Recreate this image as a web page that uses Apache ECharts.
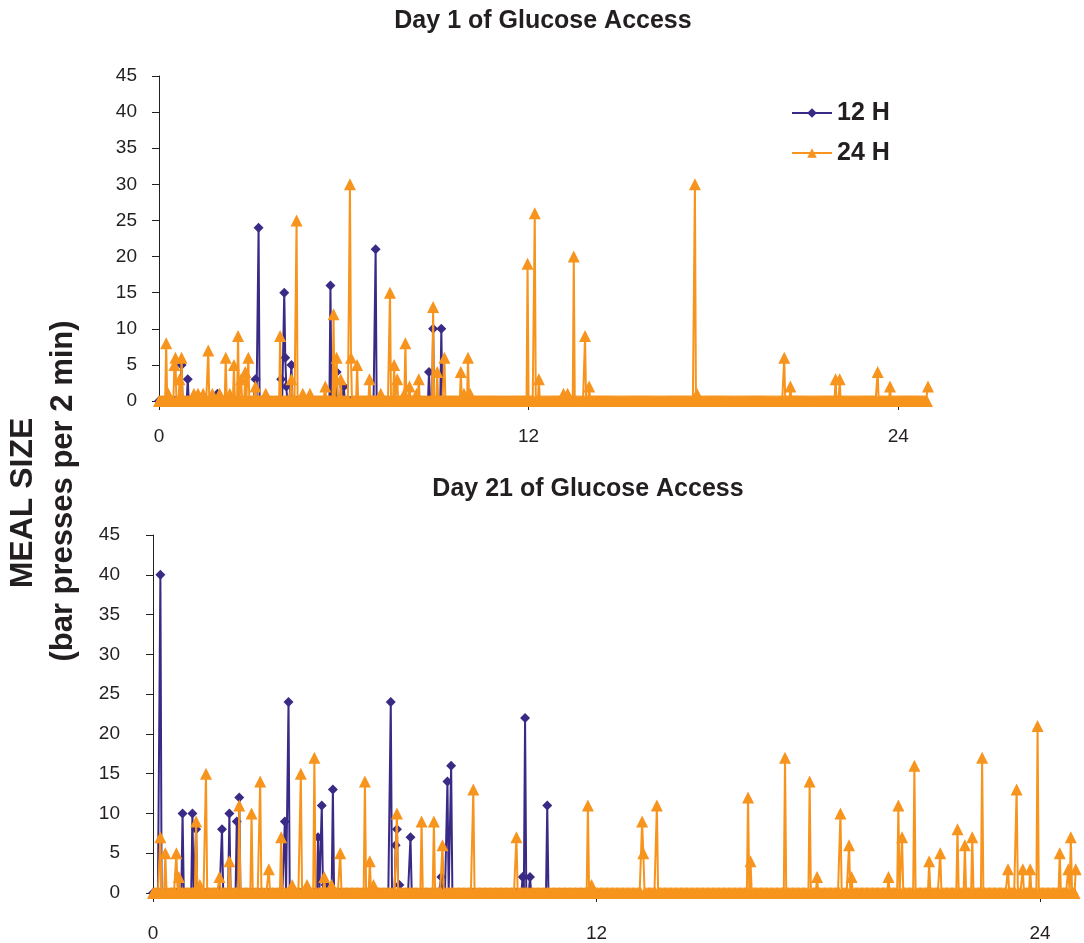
<!DOCTYPE html>
<html>
<head>
<meta charset="utf-8">
<style>
  html, body { margin: 0; padding: 0; background: #fff; }
  #chart { width: 1084px; height: 943px; }
</style>
<script src="https://cdn.jsdelivr.net/npm/echarts@6/dist/echarts.min.js"></script>
</head>
<body>
<div id="chart"></div>
<script>
// 2-min bins, hours on the x axis
const binsPerHour = 30;
const bins24 = 750;
const bins12 = 361;
const hourLabels = [0, 12, 24];
const seriesNames = ['12 H', '24 H'];

// Day 1 - meals (hour, bar presses)
const day1Time12 = [0.74, 0.92, 1.89, 3.13, 3.22, 3.96, 4.06, 4.10, 4.12, 4.30, 5.58, 5.78, 6.01, 7.02, 8.78, 8.91, 9.16];
const day1Size12 = [5, 3, 1, 3, 24, 3, 15, 6, 2, 5, 16, 4, 2, 21, 4, 10, 10];
const day1Time24 = [0.23, 0.30, 0.49, 0.54, 0.65, 0.74, 1.12, 1.28, 1.44, 1.60, 1.72, 1.98, 2.18, 2.30, 2.44, 2.57, 2.67, 2.81, 2.91,
  3.13, 3.45, 3.92, 4.31, 4.48, 4.68, 4.90, 5.40, 5.68, 5.78, 5.91, 6.19, 6.24, 6.43, 6.84, 7.20, 7.50, 7.63, 7.74, 7.95,
  8.01, 8.12, 8.35, 8.42, 8.89, 9.02, 9.25, 9.81, 9.90, 10.03, 10.10, 11.98, 12.21, 12.32, 13.13, 13.28, 13.46, 13.84, 13.97,
  17.40, 17.48, 20.31, 20.51, 21.98, 22.11, 23.32, 23.73, 24.97];
const day1Size24 = [8, 1, 5, 6, 3, 6, 1, 1, 1, 7, 1, 1, 6, 1, 5, 9, 3, 4, 6,
  2, 1, 9, 3, 25, 1, 1, 2, 12, 6, 3, 30, 6, 5, 3, 1, 15, 5, 3, 1,
  8, 2, 1, 3, 13, 4, 6, 4, 1, 6, 1, 19, 26, 3, 1, 1, 20, 9, 2,
  30, 1, 6, 2, 3, 3, 4, 2, 2];

// Day 21
const day21Time12 = [0.19, 0.80, 1.05, 1.16, 1.86, 2.06, 2.25, 2.34, 3.58, 3.67, 4.48, 4.56, 4.65, 4.88,
  6.44, 6.57, 6.61, 6.68, 6.95, 7.81, 7.96, 8.05, 10.01, 10.08, 10.21, 10.68];
const day21Size12 = [40, 10, 10, 8, 8, 10, 9, 12, 9, 24, 7, 11, 1, 13,
  24, 6, 8, 1, 7, 2, 14, 16, 2, 22, 2, 11];
const day21Time24 = [0.21, 0.34, 0.64, 0.70, 1.16, 1.27, 1.43, 1.81, 2.06, 2.33, 2.65, 2.90, 3.12, 3.47, 3.75, 3.99,
  4.17, 4.38, 4.63, 4.84, 5.07, 5.74, 5.87, 5.96, 6.61, 7.28, 7.59, 7.82, 8.65, 9.82, 11.78, 11.85,
  13.23, 13.27, 13.62, 16.09, 16.16, 17.11, 17.77, 17.97, 18.59, 18.83, 18.90, 19.89, 20.16, 20.27,
  20.59, 20.99, 21.29, 21.76, 21.95, 22.15, 22.43, 23.14, 23.38, 23.54, 23.73, 23.92, 24.54, 24.76, 24.82, 24.95];
const day21Size24 = [7, 5, 5, 2, 9, 1, 15, 2, 4, 11, 10, 14, 3, 7, 1, 15,
  1, 17, 2, 1, 5, 14, 4, 1, 10, 9, 9, 6, 13, 7, 11, 1,
  9, 5, 11, 12, 4, 17, 14, 2, 10, 6, 2, 2, 11, 7,
  16, 4, 5, 8, 6, 7, 17, 3, 13, 3, 3, 21, 5, 3, 7, 3];

const blue = '#3a2a86';
const orange = '#f7941d';
const textColor = '#231f20';
const fontFamily = 'Liberation Sans, Arial, sans-serif';

// every 2-min bin with no meal is a zero
function toBins(times, sizes, n) {
  const vals = new Array(n).fill(0);
  times.forEach((t, i) => {
    const idx = Math.min(n - 1, Math.round(t * binsPerHour));
    vals[idx] = Math.max(vals[idx], sizes[i]);
  });
  return vals.map((v, i) => [i / binsPerHour, v]);
}

function xAxisFor(gridIndex, margin) {
  return {
    type: 'value', gridIndex: gridIndex, min: 0, max: 25,
    axisLine: { show: true, lineStyle: { color: textColor, width: 1 } },
    axisTick: { show: true, length: 9, customValues: hourLabels, lineStyle: { color: textColor } },
    axisLabel: { customValues: hourLabels, margin: margin, color: textColor, fontSize: 19, fontFamily: fontFamily },
    splitLine: { show: false }
  };
}

function yAxisFor(gridIndex, offset, margin) {
  return {
    type: 'value', gridIndex: gridIndex, min: 0, max: 45, interval: 5, offset: offset,
    axisLine: { show: true, lineStyle: { color: textColor, width: 1 } },
    axisTick: { show: true, length: 7, lineStyle: { color: textColor } },
    axisLabel: { margin: margin, color: textColor, fontSize: 19, fontFamily: fontFamily },
    splitLine: { show: false }
  };
}

function lineSeries(name, idx, data, color, symbol, size) {
  return {
    name: name, type: 'line', xAxisIndex: idx, yAxisIndex: idx,
    data: data, symbol: symbol, symbolSize: size, showSymbol: true, showAllSymbol: true,
    lineStyle: { color: color, width: 2 },
    itemStyle: { color: color },
    emphasis: { disabled: true },
    z: name === '24 H' ? 3 : 2
  };
}

const chart = echarts.init(document.getElementById('chart'), null, { renderer: 'canvas' });

const option = {
  animation: false,
  backgroundColor: '#fff',
  textStyle: { fontFamily: fontFamily },
  legend: {
    data: seriesNames,
    orient: 'vertical', left: 791, top: 99, padding: 0,
    itemWidth: 40, itemHeight: 12, itemGap: 12,
    textStyle: { fontSize: 25, fontWeight: 'bold', color: textColor, fontFamily: fontFamily, lineHeight: 28 }
  },
  grid: [
    { left: 159, right: 155, top: 76, bottom: 542 },
    { left: 153, right: 7, top: 535, bottom: 42 }
  ],
  xAxis: [xAxisFor(0, 26), xAxisFor(1, 31)],
  yAxis: [yAxisFor(0, 6, 16), yAxisFor(1, 7, 26)],
  series: [
    lineSeries('12 H', 0, toBins(day1Time12, day1Size12, bins12), blue, 'diamond', 10),
    lineSeries('24 H', 0, toBins(day1Time24, day1Size24, bins24), orange, 'triangle', 12),
    lineSeries('12 H', 1, toBins(day21Time12, day21Size12, bins12), blue, 'diamond', 10),
    lineSeries('24 H', 1, toBins(day21Time24, day21Size24, bins24), orange, 'triangle', 12)
  ],
  graphic: [
    { type: 'text', x: 543, y: 21, style: { text: 'Day 1 of Glucose Access', fill: textColor,
      font: 'bold 25px ' + fontFamily, align: 'center', verticalAlign: 'middle', textAlign: 'center', textVerticalAlign: 'middle' } },
    { type: 'text', x: 588, y: 489, style: { text: 'Day 21 of Glucose Access', fill: textColor,
      font: 'bold 25px ' + fontFamily, align: 'center', verticalAlign: 'middle', textAlign: 'center', textVerticalAlign: 'middle' } },
    { type: 'text', x: 23, y: 503, rotation: Math.PI / 2, style: { text: 'MEAL SIZE', fill: textColor,
      font: 'bold 32px ' + fontFamily, align: 'center', verticalAlign: 'middle', textAlign: 'center', textVerticalAlign: 'middle' } },
    { type: 'text', x: 63, y: 491, rotation: Math.PI / 2, style: { text: '(bar presses per 2 min)', fill: textColor,
      font: 'bold 31px ' + fontFamily, align: 'center', verticalAlign: 'middle', textAlign: 'center', textVerticalAlign: 'middle' } }
  ]
};

chart.setOption(option);
</script>
</body>
</html>
